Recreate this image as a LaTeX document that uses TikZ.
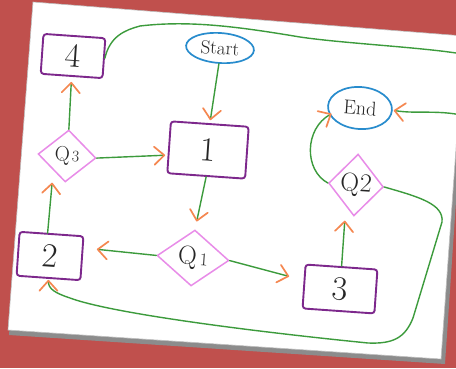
\documentclass[tikz,border=0pt]{standalone}
\usepackage{fontspec}
\usetikzlibrary{arrows.meta,shapes.geometric,calc}
\definecolor{bgred}{RGB}{192,80,77}
\definecolor{boxpurple}{RGB}{125,40,140}
\definecolor{diapink}{RGB}{232,140,232}
\definecolor{ovalblue}{RGB}{40,140,205}
\definecolor{lgreen}{RGB}{60,155,60}
\definecolor{arrowor}{RGB}{245,135,80}
\newcommand{\numfont}{\fontsize{34}{34}\selectfont}
\begin{document}
\begin{tikzpicture}[x=1pt,y=-1pt,
  box/.style={draw=boxpurple, line width=1.9pt, rounded corners=3pt, rotate=-4, inner sep=0pt, text=black!85},
  dia/.style={draw=diapink, line width=1.5pt, diamond, rotate=-4, inner sep=0pt, text=black!85},
  oval/.style={draw=ovalblue, line width=1.7pt, ellipse, rotate=-4, inner sep=0pt, text=black!85},
  conn/.style={draw=lgreen, line width=1.4pt, line cap=round,
    -{Straight Barb[length=10pt,width=18pt,line width=1.7pt,round,color=arrowor]}}
]
\useasboundingbox (0,0) rectangle (456,368);
\clip (0,0) rectangle (456,368);
\fill[bgred] (0,0) rectangle (456,368);
% paper
\fill[black!45] (35,5) -- (467,39) -- (445,364) -- (9,335) -- cycle;
\fill[white] (33,2) -- (464,36) -- (441,359) -- (8,330) -- cycle;
\draw[black!25, line width=0.6pt] (33,2) -- (464,36) -- (441,359) -- (8,330) -- cycle;

% nodes
\node[box, minimum width=62pt, minimum height=40pt] (n4) at (73,56) {\numfont 4};
\node[oval, minimum width=68pt, minimum height=30pt] (startn) at (220,48) {\fontsize{19}{19}\selectfont Start};
\node[box, minimum width=78pt, minimum height=52pt] (n1) at (208,150) {\numfont 1};
\node[dia, minimum width=58pt, minimum height=52pt] (q3) at (67,156) {\fontsize{21}{21}\selectfont Q\kern2pt\fontsize{16}{16}\selectfont 3};
\node[box, minimum width=64pt, minimum height=44pt] (n2) at (50,256) {\numfont 2};
\node[dia, minimum width=72pt, minimum height=56pt] (q1) at (193,258) {\fontsize{26}{26}\selectfont Q\kern3pt\fontsize{18}{18}\selectfont 1};
\node[box, minimum width=72pt, minimum height=44pt] (n3) at (340,289) {\numfont 3};
\node[dia, minimum width=54pt, minimum height=62pt] (q2) at (356,185) {\fontsize{26}{26}\selectfont Q\kern1pt 2};
\node[oval, minimum width=64pt, minimum height=42pt] (endn) at (360,108) {\fontsize{20}{20}\selectfont End};

% connectors
\draw[conn, shorten >=3pt] (startn.south) -- (n1.north);
\draw[conn] (q3.east) -- ($(n1.west)+(-3,8)$);
\draw[conn, shorten >=5pt] (q3.north) -- (n4.south);
\draw[conn] ($(n2.north)+(-4,0)$) -- ($(q3.south)+(-13,0)$);
\draw[conn, shorten >=8pt] (n1.south) -- (q1.north);
\draw[conn] (q1.west) -- ($(n2.east)+(14,-9)$);
\draw[conn] (q1.east) -- ($(n3.west)+(-14,-10)$);
\draw[conn] (n3.north) -- ($(q2.south)+(-9,4)$);
\draw[conn] (q2.west) .. controls +(-24,-13) and +(-27,15) .. ($(endn.west)!0.5!(endn.south west)$);
\draw[conn, shorten >=1pt] (q2.east) .. controls +(35,10) and +(2,-18) .. (442,222)
  -- (413,318)
  .. controls +(-8,20) and +(25,1) .. (368,343)
  .. controls +(-120,-12) and +(40,15) .. (70,298)
  .. controls +(-15,-5) and +(0,10) .. (n2.south);
\draw[conn, shorten >=1pt] (n4.east) .. controls +(5,-22) and +(-15,4) .. (140,26)
  .. controls +(50,-6) and +(-60,-10) .. (300,37)
  .. controls +(40,6) and +(-40,-6) .. (456,53)
  .. controls +(30,4) and +(25,0) .. (470,117)
  .. controls +(-30,-8) and +(25,4) .. (endn.east);
\end{tikzpicture}
\end{document}
